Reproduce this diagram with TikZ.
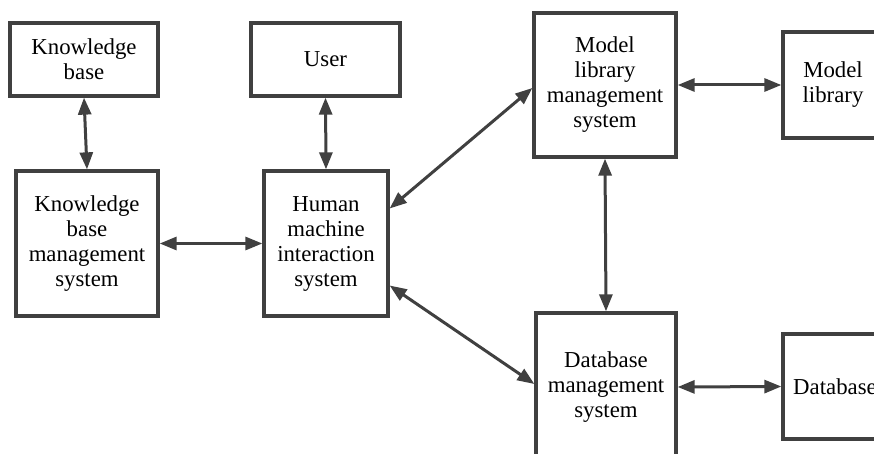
\documentclass[tikz,border=0pt]{standalone}
\usepackage{fontspec}
\setmainfont{Liberation Serif}
\newfontfamily\tnr{Liberation Serif}
\usetikzlibrary{arrows.meta}
\definecolor{ink}{HTML}{404040}
\begin{document}
\begin{tikzpicture}[x=1pt,y=1pt,
  box/.style={draw=ink, line width=3.3pt, fill=white, align=center, inner sep=0pt,
    font=\tnr\fontsize{22.8}{25}\selectfont, text=black},
  link/.style={draw=ink, line width=3pt, {Triangle[length=17pt,width=13pt]}-{Triangle[length=17pt,width=13pt]}}]
\useasboundingbox (0,0) rectangle (874,-454);
\clip (0,0) rectangle (874,-454);
\node[box, minimum width=148pt, minimum height=73pt] (kb) at (84,-59.5) {Knowledge\\base};
\node[box, minimum width=149pt, minimum height=73pt] (user) at (325.5,-59.5) {User};
\node[box, minimum width=142pt, minimum height=145pt] (kbms) at (87,-243.5) {Knowledge\\base\\management\\system};
\node[box, minimum width=124pt, minimum height=145pt] (hmi) at (326,-243.5) {Human\\machine\\interaction\\system};
\node[box, minimum width=142pt, minimum height=144pt] (mlms) at (605,-85) {Model\\library\\management\\system};
\node[box, minimum width=100pt, minimum height=106pt] (ml) at (833,-85) {Model\\library};
\node[box, minimum width=140pt, minimum height=148pt] (dbms) at (606,-387) {Database\\management\\system};
\node[box, minimum width=104pt, minimum height=105pt] (db) at (835,-386.5) {Database};
\draw[link] (kb.south) -- (kbms.north);
\draw[link] (user.south) -- (hmi.north);
\draw[link] (kbms.east) -- (hmi.west);
\draw[link] ([yshift=35pt]hmi.east) -- ([yshift=-3pt]mlms.west);
\draw[link] ([yshift=-42pt]hmi.east) -- ([yshift=3pt]dbms.west);
\draw[link] (mlms.south) -- (dbms.north);
\draw[link] (mlms.east) -- (ml.west);
\draw[link] (dbms.east) -- (db.west);
\end{tikzpicture}
\end{document}
